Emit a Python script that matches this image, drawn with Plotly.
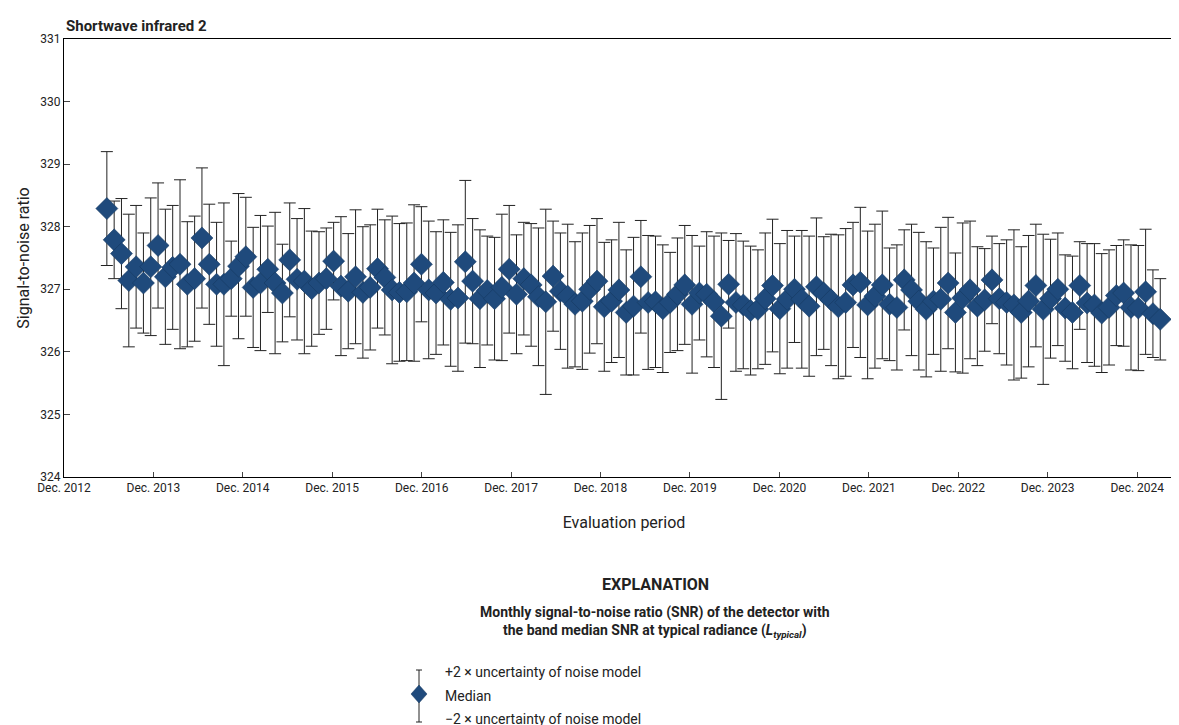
import pandas as pd
import plotly.graph_objects as go

# monthly median SNR
median = [
    328.29, 327.79, 327.57, 327.14, 327.36, 327.10, 327.36, 327.70, 327.20, 327.35,
    327.40, 327.08, 327.17, 327.82, 327.40, 327.08, 327.08, 327.17, 327.37, 327.52,
    327.03, 327.10, 327.32, 327.10, 326.94, 327.47, 327.16, 327.13, 327.01, 327.10,
    327.17, 327.45, 327.05, 326.97, 327.20, 326.95,
    327.03, 327.33, 327.19, 326.99, 326.95, 326.96, 327.10, 327.40, 326.99, 326.94,
    327.11, 326.84, 326.86, 327.44, 327.13, 326.85, 326.98, 326.85, 327.03, 327.32,
    326.92, 327.17, 327.07, 326.88, 326.80, 327.21, 326.97, 326.89, 326.76, 326.81,
    327.00, 327.13, 326.72, 326.81, 326.99, 326.63, 326.73, 327.20, 326.79,
    326.80, 326.69, 326.79, 326.92, 327.07, 326.76, 326.94, 326.92, 326.80, 326.57,
    327.08, 326.79, 326.75, 326.66, 326.68, 326.85, 327.06, 326.69, 326.84, 327.00,
    326.84, 326.73, 327.04, 326.94, 326.83, 326.72, 326.79, 327.07, 327.11, 326.75,
    326.89, 327.07, 326.76, 326.71, 327.15, 326.99, 326.81, 326.68,
    326.81, 326.84, 327.10, 326.63, 326.86, 326.99, 326.73, 326.83, 327.15, 326.85,
    326.79, 326.75, 326.63, 326.81, 327.06, 326.68, 326.85, 327.00, 326.70, 326.63,
    327.06, 326.78, 326.75, 326.62, 326.71, 326.90, 326.94, 326.71, 326.70, 326.96,
    326.61, 326.52,
]

# 2 x uncertainty of the noise model (half-length of each bar)
uncert = [
    0.91, 0.62, 0.88, 1.06, 0.98, 0.80, 1.10, 1.00, 1.08, 0.99,
    1.35, 1.00, 1.00, 1.12, 0.96, 0.99, 1.30, 0.60, 1.16, 0.95,
    0.96, 1.08, 0.69, 1.13, 0.78, 0.91, 0.97, 1.16, 0.92, 0.82,
    0.81, 0.62, 1.11, 0.92, 1.07, 1.05,
    1.00, 0.95, 0.92, 1.18, 1.10, 1.10, 1.25, 0.92, 1.10, 0.98,
    1.00, 1.07, 1.17, 1.30, 1.00, 1.10, 0.87, 0.98, 1.17, 1.02,
    0.95, 0.90, 0.98, 1.10, 1.48, 0.88, 0.93, 1.15, 1.00, 1.09,
    1.02, 1.00, 1.03, 0.98, 1.08, 1.00, 1.10, 0.90, 1.07,
    1.05, 1.02, 0.80, 0.90, 0.95, 1.10, 0.75, 1.00, 1.05, 1.33,
    0.70, 1.10, 1.02, 1.03, 0.95, 1.05, 1.06, 1.04, 1.10, 0.85,
    1.10, 1.12, 1.10, 0.90, 1.05, 1.15, 1.18, 1.00, 1.20, 1.18,
    1.15, 1.18, 0.90, 1.00, 0.80, 1.05, 1.10, 1.08,
    0.85, 1.15, 1.05, 0.95, 1.20, 1.10, 0.95, 0.82, 0.70, 0.88,
    1.00, 1.20, 1.05, 1.05, 0.98, 1.20, 0.95, 0.90, 0.85, 0.90,
    0.70, 0.95, 0.98, 0.95, 0.92, 0.80, 0.85, 1.00, 1.00, 1.00,
    0.70, 0.65,
]

# evaluation periods, evenly spread over the span seen in the reference
dates = pd.date_range("2013-05-25", "2025-03-05", periods=len(median))
tick_dates = pd.date_range("2012-12-01", "2024-12-01", freq="12MS")
tick_text = [f"Dec. {d.year}" for d in tick_dates]

NAVY = "#1f4a7c"
FONT = "Roboto, Arial"

fig = go.Figure()
fig.add_trace(go.Scatter(
    x=dates, y=median, mode="markers",
    marker=dict(symbol="diamond", size=17, color=NAVY, line=dict(color="#15365c", width=0.5)),
    error_y=dict(type="data", array=uncert, color="#222222", thickness=1, width=6),
    showlegend=False,
))

fig.update_layout(
    width=1179, height=725,
    margin=dict(l=56, r=3, t=31, b=256, autoexpand=False),
    plot_bgcolor="white", paper_bgcolor="white",
    font=dict(family=FONT, size=12, color="#222"),
    xaxis=dict(range=["2012-12-01", "2025-06-10"], tickvals=tick_dates, ticktext=tick_text,
               ticks="inside", ticklen=5, showgrid=False, zeroline=False, automargin=False,
               showline=True, linecolor="black", mirror=True,
               title=dict(text="Evaluation period", font=dict(size=16), standoff=22)),
    yaxis=dict(range=[324, 331], dtick=1, ticks="inside", ticklen=6, showgrid=False,
               zeroline=False, showline=True, linecolor="black", mirror="ticks", automargin=False,
               title=dict(text="Signal-to-noise ratio", font=dict(size=16), standoff=6)),
)

# title and explanation text
ann = [
    dict(x=0.0, y=1.0, xanchor="left", yanchor="bottom", yshift=2,
         text="<b>Shortwave infrared 2</b>", font=dict(size=15)),
    dict(x=0.528, y=-0.245, text="<b>EXPLANATION</b>", font=dict(size=16)),
    dict(x=0.528, y=-0.33, text="<b>Monthly signal-to-noise ratio (SNR) of the detector with<br>"
         "the band median SNR at typical radiance (<i>L<sub>typical</sub></i>)</b>",
         font=dict(size=14)),
    dict(x=0.338, y=-0.445, xanchor="left", text="+2 × uncertainty of noise model", font=dict(size=14)),
    dict(x=0.338, y=-0.50, xanchor="left", text="Median", font=dict(size=14)),
    dict(x=0.338, y=-0.553, xanchor="left", text="−2 × uncertainty of noise model", font=dict(size=14)),
]
for a in ann:
    a.setdefault("xanchor", "center")
    a.setdefault("yanchor", "middle")
    fig.add_annotation(xref="paper", yref="paper", showarrow=False, **a)

# legend glyph (paper coords in pixels)
def px(xp, yp):
    return (xp - 56) / (1179 - 59), (469 - yp) / (469 - 31)

x0, yt = px(411, 662)
_, yb = px(411, 714)
_, ym = px(411, 686)
cw = 3 / 1120
fig.add_shape(type="line", xref="paper", yref="paper", x0=x0, x1=x0, y0=yt, y1=yb, line=dict(color="#222", width=1))
for yy in (yt, yb):
    fig.add_shape(type="line", xref="paper", yref="paper", x0=x0 - cw, x1=x0 + cw, y0=yy, y1=yy, line=dict(color="#222", width=1))
dx, dy = 8 / 1120, 9 / 438
fig.add_shape(type="path", xref="paper", yref="paper",
              path=f"M {x0 - dx} {ym} L {x0} {ym + dy} L {x0 + dx} {ym} L {x0} {ym - dy} Z",
              fillcolor=NAVY, line=dict(color="#15365c", width=0.5))

fig.write_html("out.html")
